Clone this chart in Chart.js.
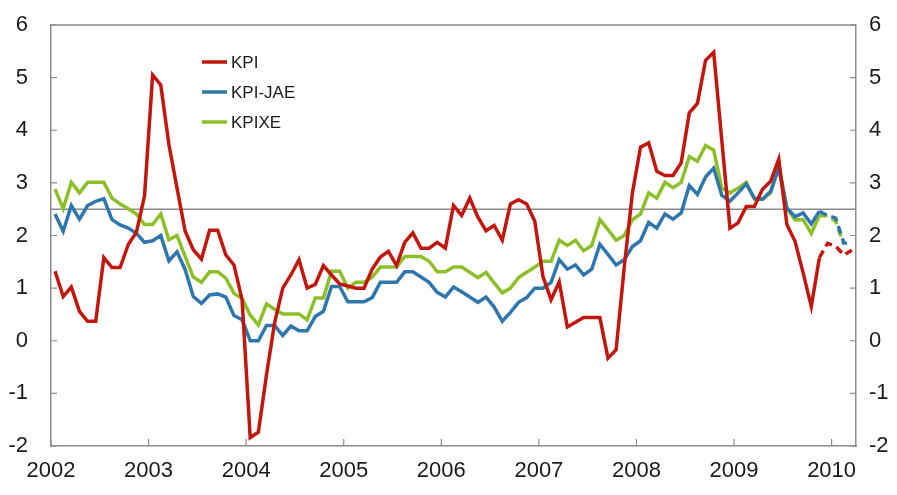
<!DOCTYPE html>
<html>
<head>
<meta charset="utf-8">
<script src="https://cdn.jsdelivr.net/npm/chart.js@4.4.0/dist/chart.umd.min.js"></script>
<style>
  html, body { margin: 0; padding: 0; background: #fff; }
  canvas { display: block; }
</style>
</head>
<body>
<canvas id="chart1" width="897" height="495"></canvas>
<script>
// Monthly, Jan 2002 - Mar 2010 (last months dashed = projection)
const years = ['2002', '2003', '2004', '2005', '2006', '2007', '2008', '2009', '2010'];

const kpi = [
    1.32, 0.84, 1.02, 0.56, 0.37, 0.37, 1.58, 1.39, 1.39, 1.83, 2.06, 2.75,
    5.05, 4.86, 3.73, 2.90, 2.08, 1.73, 1.55, 2.10, 2.10, 1.63, 1.44, 0.78,
    -1.84, -1.74, -0.65, 0.34, 1.00, 1.25, 1.54, 1.00, 1.07, 1.43, 1.25, 1.08,
    1.04, 1.00, 1.00, 1.36, 1.59, 1.70, 1.43, 1.87, 2.05, 1.76, 1.76, 1.87,
    1.76, 2.57, 2.38, 2.71, 2.35, 2.09, 2.19, 1.91, 2.60, 2.68, 2.60, 2.27,
    1.22, 0.78, 1.12, 0.26, 0.35, 0.44, 0.44, 0.44, -0.33, -0.17, 1.40, 2.81,
    3.68, 3.76, 3.22, 3.14, 3.14, 3.38, 4.33, 4.51, 5.33, 5.48, 3.80, 2.14,
    2.24, 2.55, 2.55, 2.88, 3.03, 3.45, 2.21, 1.89, 1.29, 0.65, 1.58, 1.85,
    1.80, 1.63, 1.72
];

const kpiJae = [
    2.41, 2.08, 2.57, 2.31, 2.57, 2.65, 2.70, 2.30, 2.20, 2.14, 2.04, 1.87,
    1.90, 2.00, 1.52, 1.69, 1.35, 0.84, 0.71, 0.87, 0.89, 0.83, 0.48, 0.40,
    0.00, 0.00, 0.29, 0.29, 0.10, 0.28, 0.19, 0.19, 0.46, 0.56, 1.03, 1.03,
    0.74, 0.74, 0.74, 0.82, 1.11, 1.11, 1.11, 1.31, 1.31, 1.21, 1.11, 0.92,
    0.83, 1.02, 0.93, 0.83, 0.73, 0.83, 0.64, 0.37, 0.54, 0.73, 0.82, 1.00,
    1.00, 1.11, 1.54, 1.36, 1.44, 1.25, 1.36, 1.83, 1.64, 1.44, 1.54, 1.79,
    1.90, 2.25, 2.14, 2.41, 2.31, 2.43, 2.95, 2.78, 3.11, 3.28, 2.76, 2.65,
    2.81, 2.98, 2.71, 2.69, 2.84, 3.28, 2.52, 2.36, 2.43, 2.22, 2.46, 2.38,
    2.33, 1.86, 1.84
];

const kpixe = [
    2.88, 2.51, 3.01, 2.81, 3.01, 3.01, 3.01, 2.71, 2.60, 2.51, 2.41, 2.21,
    2.21, 2.41, 1.92, 2.00, 1.60, 1.21, 1.11, 1.31, 1.31, 1.19, 0.90, 0.80,
    0.49, 0.30, 0.70, 0.60, 0.51, 0.51, 0.51, 0.40, 0.81, 0.81, 1.32, 1.32,
    1.00, 1.11, 1.11, 1.21, 1.40, 1.40, 1.40, 1.60, 1.60, 1.60, 1.51, 1.31,
    1.31, 1.40, 1.40, 1.30, 1.20, 1.30, 1.10, 0.91, 1.00, 1.20, 1.30, 1.40,
    1.51, 1.51, 1.91, 1.81, 1.91, 1.71, 1.81, 2.30, 2.11, 1.91, 2.00, 2.30,
    2.41, 2.81, 2.71, 3.01, 2.91, 3.01, 3.50, 3.41, 3.71, 3.62, 2.90, 2.81,
    2.90, 3.01, 2.69, 2.69, 2.81, 3.33, 2.52, 2.30, 2.30, 2.04, 2.38, 2.37,
    2.27, 1.83
];

const seriesNames = ['KPI', 'KPI-JAE', 'KPIXE'];
const yTicks = [-2, -1, 0, 1, 2, 3, 4, 5, 6];
const target = 2.5;
const lastActual = 94; // index of last actual month, after that dashed

const RED = '#c0170f';
const BLUE = '#2f76ad';
const GREEN = '#8dbf2a';
const AXIS = '#8c8c8c';
const FONT = '"Liberation Sans", Arial, sans-serif';

function toPoints(arr) {
    return arr.map((v, i) => ({ x: i + 0.5, y: v }));
}

function dashed(ctx) {
    return ctx.p0DataIndex >= lastActual ? [8, 5] : undefined;
}

// keep the y-label overflow from pushing the plot area down
function fixWidth(w) {
    return s => {
        s.width = w;
        s.paddingTop = 0;
        s.paddingBottom = 0;
    };
}

// draws the top border, the 2.5 line, the inside tick marks and the legend
const extras = {
    id: 'extras',
    beforeDatasetsDraw(chart) {
        const c = chart.ctx;
        const a = chart.chartArea;
        const y = chart.scales.y.getPixelForValue(target);
        c.save();
        c.strokeStyle = AXIS;
        c.lineWidth = 1.5;
        c.beginPath();
        c.moveTo(a.left, y);
        c.lineTo(a.right, y);
        c.moveTo(a.left, a.top);
        c.lineTo(a.right, a.top);
        c.stroke();

        // inside ticks
        c.lineWidth = 1.2;
        c.beginPath();
        yTicks.forEach(t => {
            const py = chart.scales.y.getPixelForValue(t);
            c.moveTo(a.left, py); c.lineTo(a.left + 6, py);
            c.moveTo(a.right, py); c.lineTo(a.right - 6, py);
        });
        years.forEach((yr, k) => {
            const px = chart.scales.x.getPixelForValue(k * 12);
            c.moveTo(px, a.bottom); c.lineTo(px, a.bottom - 7);
        });
        c.stroke();
        c.restore();
    },
    afterDatasetsDraw(chart) {
        const c = chart.ctx;
        c.save();
        c.font = '17px ' + FONT;
        c.textBaseline = 'middle';
        chart.data.datasets.forEach((ds, k) => {
            const ly = 62 + k * 30;
            c.strokeStyle = ds.borderColor;
            c.lineWidth = 3.5;
            c.beginPath();
            c.moveTo(202, ly);
            c.lineTo(227, ly);
            c.stroke();
            c.fillStyle = '#1a1a1a';
            c.fillText(ds.label, 231, ly + 1);
        });
        c.restore();
    }
};

const ctx = document.getElementById('chart1').getContext('2d');
const chart = new Chart(ctx, {
    type: 'line',
    data: {
        datasets: [
            {
                label: seriesNames[0],
                data: toPoints(kpi),
                borderColor: RED,
                borderWidth: 3.5,
                pointRadius: 0,
                tension: 0,
                segment: { borderDash: dashed }
            },
            {
                label: seriesNames[1],
                data: toPoints(kpiJae),
                borderColor: BLUE,
                borderWidth: 3.5,
                pointRadius: 0,
                tension: 0,
                segment: { borderDash: dashed }
            },
            {
                label: seriesNames[2],
                data: toPoints(kpixe),
                borderColor: GREEN,
                borderWidth: 3.5,
                pointRadius: 0,
                tension: 0,
                segment: { borderDash: dashed }
            }
        ]
    },
    options: {
        responsive: false,
        animation: false,
        devicePixelRatio: 1,
        layout: { padding: { top: 25, left: 0, right: 0, bottom: 0 } },
        plugins: {
            legend: { display: false },
            tooltip: { enabled: false }
        },
        scales: {
            x: {
                type: 'linear',
                min: 0,
                max: 99,
                afterFit: s => { s.height = 49; },
                border: { display: true, color: AXIS, width: 1.5 },
                grid: { display: false, drawTicks: false },
                ticks: {
                    stepSize: 12,
                    includeBounds: false,
                    autoSkip: false,
                    maxRotation: 0,
                    padding: 12,
                    color: '#1a1a1a',
                    font: { family: FONT, size: 22 },
                    callback: v => years[v / 12]
                }
            },
            y: {
                position: 'left',
                min: -2,
                max: 6,
                afterFit: fixWidth(51),
                border: { display: true, color: AXIS, width: 1.5 },
                grid: { display: false, drawTicks: false },
                ticks: {
                    stepSize: 1,
                    padding: 23,
                    color: '#1a1a1a',
                    font: { family: FONT, size: 22 }
                }
            },
            y2: {
                position: 'right',
                min: -2,
                max: 6,
                afterFit: fixWidth(41),
                border: { display: true, color: AXIS, width: 1.5 },
                grid: { display: false, drawTicks: false },
                ticks: {
                    stepSize: 1,
                    padding: 13,
                    color: '#1a1a1a',
                    font: { family: FONT, size: 22 }
                }
            }
        }
    },
    plugins: [extras]
});
</script>
</body>
</html>
